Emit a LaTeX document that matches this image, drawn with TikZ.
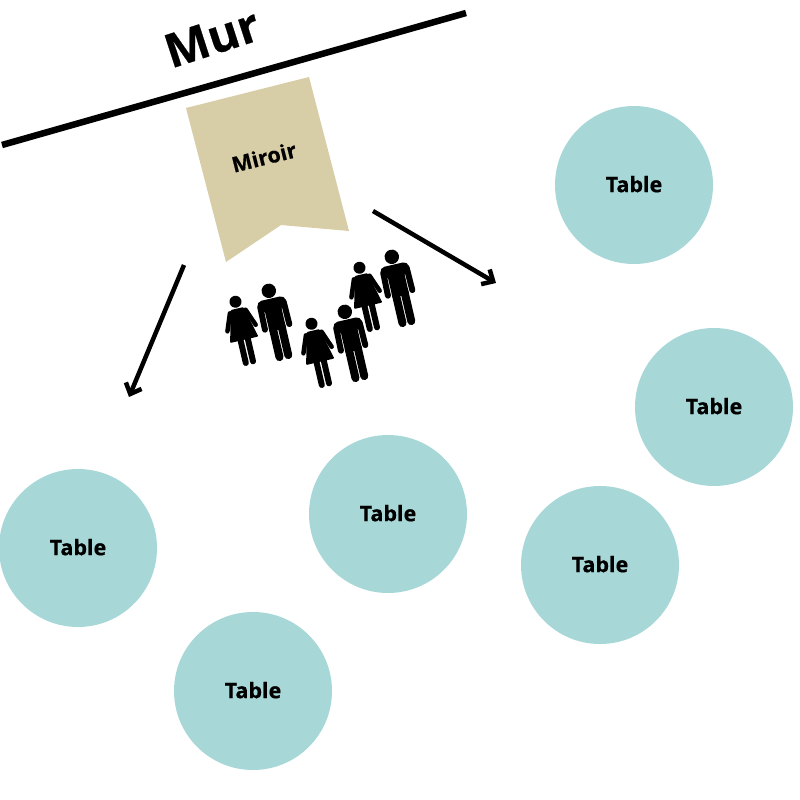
\documentclass[tikz,border=0pt]{standalone}
\usepackage{fontspec}
\setmainfont[BoldFeatures={FakeBold=0.5}]{Open Sans}
\usepackage{xcolor}
\usetikzlibrary{arrows.meta}
\definecolor{tablecol}{HTML}{A7D7D7}
\definecolor{miroircol}{HTML}{D7CDA6}
\tikzset{
  arr/.style={-{Straight Barb[length=9pt,width=17pt,line width=4.5pt]},line width=4.5pt},
  wall/.style={line width=6.5pt},
  tablebox/.style={circle,fill=tablecol,minimum size=158pt,inner sep=0pt,text depth=2pt,
    font=\fontsize{21.5}{24}\selectfont\bfseries},
  man/.pic={
    \fill (0,-32) circle (7.2);
    \fill[rounded corners=5pt] (-14.5,-24) rectangle (14.5,-12);
    \fill (-8.5,-20) rectangle (8.5,8);
    \draw[line width=6pt,line cap=round] (-12,-18) -- (-12.5,5);
    \draw[line width=6pt,line cap=round] (12,-18) -- (12.5,5);
    \draw[line width=8pt,line cap=round] (-4.5,5) -- (-4.5,35);
    \draw[line width=8pt,line cap=round] (4.5,5) -- (4.5,35);
  },
  woman/.pic={
    \fill (0,-29) circle (6);
    \fill[rounded corners=1pt] (-6.5,-22) -- (6.5,-22) -- (14.5,10) -- (-14.5,10) -- cycle;
    \draw[line width=4.5pt,line cap=round] (-8,-19) -- (-14.5,-2);
    \draw[line width=4.5pt,line cap=round] (8,-19) -- (14.5,-2);
    \draw[line width=6pt,line cap=round] (-3.7,8) -- (-3.7,33);
    \draw[line width=6pt,line cap=round] (3.7,8) -- (3.7,33);
  },
}
\begin{document}
\begin{tikzpicture}[x=1pt,y=-1pt]
\useasboundingbox (0,0) rectangle (800,800);

% wall
\coordinate (wl) at (2,145);
\coordinate (wr) at (466,13);
\draw[wall] (wl) -- (wr);
\node[rotate=18,font=\fontsize{47}{50}\selectfont\bfseries] (mur) at (212,38) {Mur};

% mirror
\fill[miroircol] (186,108) -- (309,77) -- (349,231) -- (281,225) -- (226,262) -- cycle;
\node[rotate=14,font=\fontsize{21.5}{24}\selectfont\bfseries] (miroir) at (264,157) {Miroir};

% reflections
\coordinate (al) at (184,265);
\coordinate (bl) at (129,397);
\coordinate (ar) at (373,211);
\coordinate (br) at (496,283);
\draw[arr] (al) -- (bl);
\draw[arr] (ar) -- (br);

% people
\pic[rotate=13] at (242,330) {woman};
\pic[rotate=13] at (276,322) {man};
\pic[rotate=13] at (318,352) {woman};
\pic[rotate=13] at (352,343) {man};
\pic[rotate=13] at (366,296) {woman};
\pic[rotate=13] at (399,288) {man};

% tables
\node[tablebox] (t1) at (634,185) {Table};
\node[tablebox] (t2) at (714,407) {Table};
\node[tablebox] (t3) at (600,565) {Table};
\node[tablebox] (t4) at (388,514) {Table};
\node[tablebox] (t5) at (78,548) {Table};
\node[tablebox] (t6) at (253,691) {Table};
\end{tikzpicture}
\end{document}
